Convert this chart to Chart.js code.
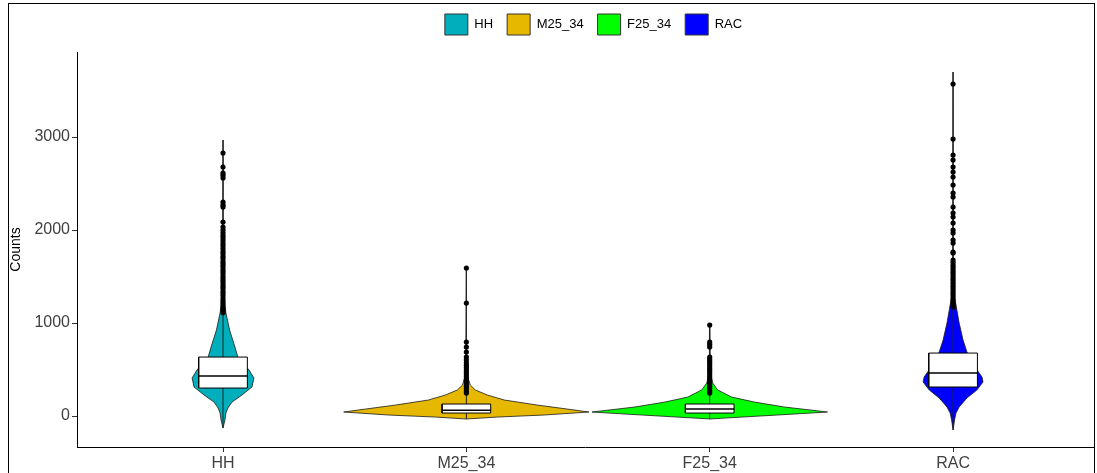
<!DOCTYPE html>
<html>
<head>
<meta charset="utf-8">
<script src="https://cdn.jsdelivr.net/npm/chart.js@4.4.1/dist/chart.umd.min.js"></script>
<style>
  html, body { margin: 0; padding: 0; background: #fff; overflow: hidden; }
  #wrap { position: relative; width: 1097px; height: 473px; overflow: hidden; }
  #frame { position: absolute; left: 8px; top: 3px; width: 1085px; height: 520px; border: 1px solid #000; pointer-events: none; }
  canvas { display: block; }
</style>
</head>
<body>
<div id="wrap">
  <canvas id="chart" width="1097" height="473"></canvas>
  <div id="frame"></div>
</div>
<script>
const categories = ["HH", "M25_34", "F25_34", "RAC"];
const colors = ["#00AFBB", "#E7B800", "#00FF00", "#0000FF"];
const yTicks = [0, 1000, 2000, 3000];

// violin outlines: counts level and half width (in category units)
const hhY = [-129, -43, 32, 86, 150, 226, 312, 409, 495, 634, 742, 925, 1108, 1250, 1500, 2968];
const hhW = [0, 0.008, 0.012, 0.02, 0.037, 0.078, 0.119, 0.127, 0.107, 0.061, 0.049, 0.027, 0.012, 0.004, 0.001, 0];
const m25Y = [-32, -11, 11, 43, 75, 118, 172, 226, 280, 333, 420, 600, 1591];
const m25W = [0, 0.127, 0.32, 0.504, 0.414, 0.291, 0.156, 0.086, 0.037, 0.016, 0.006, 0.002, 0];
const f25Y = [-32, -22, 11, 43, 97, 150, 204, 280, 355, 450, 650, 978];
const f25W = [0, 0.061, 0.279, 0.484, 0.307, 0.184, 0.09, 0.033, 0.012, 0.004, 0.002, 0];
const racY = [-150, -43, 32, 97, 194, 280, 366, 419, 527, 688, 817, 1000, 1194, 1300, 1600, 3699];
const racW = [0, 0.006, 0.012, 0.025, 0.057, 0.098, 0.123, 0.119, 0.09, 0.057, 0.041, 0.025, 0.012, 0.004, 0.001, 0];

// box plot stats
const q1 = [301, 32, 32, 312];
const medians = [430, 62, 75, 462];
const q3 = [634, 129, 129, 677];

// outliers
const hhOutliers = [1110, 1135, 1160, 1185, 1210, 1235, 1260, 1290, 1315, 1340, 1370, 1395, 1420, 1450, 1475, 1500, 1530, 1555, 1580, 1610, 1635, 1660, 1690, 1715, 1745, 1770, 1800, 1830, 1855, 1885, 1915, 1940, 1970, 2000, 2032, 2086, 2247, 2270, 2301, 2559, 2590, 2613, 2677, 2828];
const m25Outliers = [247, 270, 295, 320, 345, 370, 395, 420, 445, 470, 495, 520, 545, 570, 602, 634, 688, 742, 796, 1215, 1591];
const f25Outliers = [247, 270, 295, 320, 345, 366, 390, 415, 440, 465, 490, 515, 540, 565, 590, 612, 634, 742, 770, 796, 978];
const racOutliers = [1172, 1195, 1220, 1245, 1270, 1295, 1320, 1345, 1370, 1395, 1420, 1445, 1470, 1495, 1520, 1545, 1570, 1595, 1620, 1650, 1677, 1753, 1763, 1860, 1892, 1968, 2000, 2075, 2140, 2183, 2247, 2355, 2398, 2484, 2570, 2624, 2677, 2753, 2806, 2978, 3570];

const violinY = [hhY, m25Y, f25Y, racY];
const violinW = [hhW, m25W, f25W, racW];
const outliers = [hhOutliers, m25Outliers, f25Outliers, racOutliers];

const halfBox = 0.1;
const font = "'Liberation Sans', Arial, sans-serif";

const violinSets = [];
const lineSets = [];
const boxSets = [];
const pointSets = [];

categories.forEach((cat, i) => {
  const cx = i + 1;
  const ys = violinY[i];
  const ws = violinW[i];
  const right = ys.map((y, k) => ({ x: cx + ws[k], y }));
  const left = ys.map((y, k) => ({ x: cx - ws[k], y })).reverse();
  violinSets.push({
    type: "line",
    label: cat,
    data: right.concat(left),
    borderColor: "#1a1a1a",
    borderWidth: 0.8,
    backgroundColor: colors[i],
    fill: "shape",
    pointRadius: 0,
    tension: 0,
    order: 4,
  });
  lineSets.push({
    type: "line",
    data: [{ x: cx, y: ys[0] }, { x: cx, y: ys[ys.length - 1] }],
    borderColor: "#222",
    borderWidth: 1,
    pointRadius: 0,
    fill: false,
    order: 3,
  });
  boxSets.push({
    type: "line",
    data: [
      { x: cx - halfBox, y: q1[i] },
      { x: cx + halfBox, y: q1[i] },
      { x: cx + halfBox, y: q3[i] },
      { x: cx - halfBox, y: q3[i] },
      { x: cx - halfBox, y: q1[i] },
    ],
    borderColor: "#000",
    borderWidth: 1,
    backgroundColor: "#fff",
    fill: "shape",
    pointRadius: 0,
    tension: 0,
    order: 2,
  });
  boxSets.push({
    type: "line",
    data: [{ x: cx - halfBox, y: medians[i] }, { x: cx + halfBox, y: medians[i] }],
    borderColor: "#000",
    borderWidth: 1.6,
    pointRadius: 0,
    fill: false,
    order: 1,
  });
  pointSets.push({
    type: "scatter",
    data: outliers[i].map((v) => ({ x: cx, y: v })),
    backgroundColor: "#000",
    borderColor: "#000",
    pointRadius: 2.6,
    borderWidth: 0,
    order: 0,
  });
});

// legend sits above the panel, centred on the panel rather than the canvas
const legendPlace = {
  id: "legendPlace",
  beforeInit(chart) {
    const fit = chart.legend.fit;
    chart.legend.fit = function () {
      fit.bind(chart.legend)();
      this.height = 52;
    };
  },
  afterLayout(chart) {
    chart.legend.left += 90;
  },
};

new Chart(document.getElementById("chart").getContext("2d"), {
  type: "scatter",
  data: { datasets: [...violinSets, ...lineSets, ...boxSets, ...pointSets] },
  options: {
    responsive: false,
    animation: false,
    events: [],
    layout: { padding: { left: 0, right: 0, top: 0, bottom: 0 } },
    plugins: {
      tooltip: { enabled: false },
      legend: {
        display: true,
        position: "top",
        labels: {
          boxWidth: 23,
          boxHeight: 21,
          padding: 14,
          color: "#000",
          font: { family: font, size: 13 },
          generateLabels: () =>
            categories.map((c, i) => ({
              text: c,
              fillStyle: colors[i],
              strokeStyle: "#333",
              lineWidth: 1,
              hidden: false,
              datasetIndex: i,
            })),
        },
      },
    },
    scales: {
      x: {
        type: "linear",
        min: 0.4,
        max: 4.575,
        afterFit: (scale) => { scale.height = 26; },
        afterBuildTicks: (scale) => { scale.ticks = [1, 2, 3, 4].map((v) => ({ value: v })); },
        ticks: {
          autoSkip: false,
          maxRotation: 0,
          color: "#404040",
          padding: 2,
          font: { family: font, size: 16 },
          callback: (v) => categories[Math.round(v) - 1],
        },
        grid: { drawOnChartArea: false, drawTicks: true, tickLength: 5, color: "#333" },
        border: { display: true, color: "#000", width: 1 },
      },
      y: {
        type: "linear",
        min: -333,
        max: 3914,
        afterFit: (scale) => { scale.width = 77; },
        afterBuildTicks: (scale) => { scale.ticks = yTicks.map((v) => ({ value: v })); },
        ticks: {
          color: "#404040",
          padding: 2,
          font: { family: font, size: 16 },
          callback: (v) => String(v),
        },
        title: {
          display: true,
          text: "Counts",
          color: "#000",
          font: { family: font, size: 14 },
          padding: { top: 8, bottom: 0 },
        },
        grid: { drawOnChartArea: false, drawTicks: true, tickLength: 5, color: "#333" },
        border: { display: true, color: "#000", width: 1 },
      },
    },
  },
  plugins: [legendPlace],
});
</script>
</body>
</html>
